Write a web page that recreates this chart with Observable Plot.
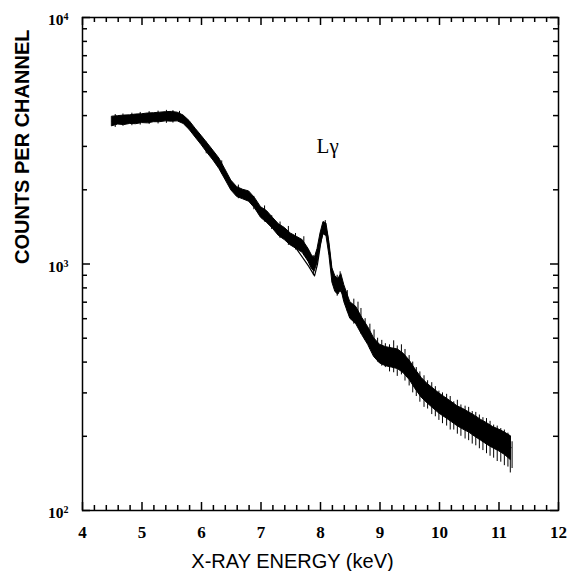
<!DOCTYPE html>
<html><head><meta charset="utf-8">
<script src="https://cdn.jsdelivr.net/npm/d3@7"></script>
<script src="https://cdn.jsdelivr.net/npm/@observablehq/plot@0.6"></script>
<style>body{margin:0;background:#fff}#chart svg{display:block}</style>
</head><body><div id="chart"></div>
<script>
// measured spectrum band (keV, counts lower / upper envelope)
const energy = [4.5,4.6,4.7,4.8,4.9,5.0,5.1,5.2,5.3,5.4,5.5,5.6,5.7,5.8,5.9,6.0,6.1,6.2,6.3,6.4,6.5,6.6,6.7,6.8,6.9,7.0,7.1,7.2,7.3,7.4,7.5,7.6,7.7,7.8,
  7.85,7.9,7.95,8.0,8.05,8.1,8.15,8.2,8.25,8.3,8.35,8.4,
  8.5,8.6,8.7,8.8,8.9,9.0,9.1,9.2,9.3,9.4,9.5,9.6,9.7,9.8,9.9,10.0,10.1,10.2,10.3,10.4,10.5,10.6,10.7,10.8,10.9,11.0,11.1,11.2];
const countsLo = [3620,3680,3660,3700,3690,3730,3720,3760,3760,3790,3780,3790,3700,3500,3260,3040,2820,2630,2430,2200,1990,1870,1830,1790,1680,1540,1470,1390,1300,1250,1190,1150,1110,1020,
  960,930,1010,1180,1320,1300,1080,840,770,750,790,700,
  600,570,515,470,420,395,385,380,375,360,338,310,287,272,259,247,238,229,220,213,207,199,192,185,179,174,168,160];
const countsHi = [3960,3980,4000,4010,4040,4050,4080,4090,4110,4130,4140,4110,4000,3800,3540,3310,3090,2880,2680,2420,2180,2050,2000,1970,1850,1700,1640,1540,1450,1400,1330,1290,1250,1150,
  1090,1050,1150,1330,1480,1460,1220,960,890,870,910,820,
  700,670,605,555,500,470,460,455,450,432,405,372,345,326,312,298,287,276,265,258,250,242,233,226,218,213,207,200];

// channel-noise spikes (keV, low, high)
const spikeEnergy = [4.55,4.68,4.83,4.97,5.12,5.27,5.41,5.52,5.63,6.08,
  6.34,6.62,6.88,7.06,7.18,7.32,7.46,7.58,7.72,7.88,
  8.08,8.28,8.33,8.45,8.56,8.63,8.68,8.75,8.83,8.9,
  8.96,9.03,9.09,9.16,9.23,9.29,9.36,9.42,9.49,9.55,
  9.61,9.67,9.74,9.8,9.87,9.93,9.99,10.05,10.12,10.18,
  10.24,10.3,10.36,10.43,10.49,10.55,10.61,10.67,10.73,10.79,
  10.85,10.91,10.97,11.03,11.09,11.15,11.19,11.22];
const spikeLo = [3580,3620,3640,3660,3680,3700,3720,3730,3760,2800,
  2320,1840,1660,1480,1380,1270,1190,1140,1080,900,
  1300,740,770,640,570,560,520,490,450,420,
  400,385,380,365,362,350,355,335,320,300,
  290,275,262,258,245,240,232,225,220,212,
  212,204,200,195,192,186,183,178,175,170,
  166,163,158,157,152,150,142,148];
const spikeHi = [4040,4060,4090,4120,4150,4170,4200,4190,4160,3120,
  2620,2090,1880,1720,1570,1480,1420,1330,1290,1080,
  1500,900,930,780,720,700,660,600,570,540,
  500,490,475,470,488,465,470,450,425,400,
  380,365,352,336,330,318,305,300,296,290,
  276,280,268,265,262,252,250,244,238,236,
  230,222,220,215,212,206,200,190];

// fitted curve
const fitEnergy = [4.5,5.0,5.5,5.6,5.7,5.8,5.9,6.0,6.2,6.4,6.5,6.6,6.7,6.8,6.9,7.0,7.2,7.4,7.6,7.8,7.9,7.95,8.0,8.05,8.08,8.12,8.2,8.3,8.4,8.5,8.6,8.7,8.8,8.9,9.0,9.2,9.4,9.6,9.8,10.0,10.2,10.4,10.6,10.8,11.0,11.2];
const fitCounts = [3800,3880,3960,3950,3850,3650,3400,3170,2740,2300,2100,1990,1960,1900,1760,1640,1470,1310,1150,980,895,1000,1200,1400,1430,1300,900,800,740,660,590,545,505,470,440,400,365,330,302,278,258,238,220,205,192,180];

// ticks and labels
const xMajor = [4,5,6,7,8,9,10,11,12];
const xMinor = [4.2,4.4,4.6,4.8,5.2,5.4,5.6,5.8,6.2,6.4,6.6,6.8,7.2,7.4,7.6,7.8,8.2,8.4,8.6,8.8,9.2,9.4,9.6,9.8,10.2,10.4,10.6,10.8,11.2,11.4,11.6,11.8];
const yMajor = [100,1000,10000];
const yExponent = ["2","3","4"];
const yMinor = [200,300,400,500,600,700,800,900,2000,3000,4000,5000,6000,7000,8000,9000];
const xTitle = "X-RAY ENERGY (keV)";
const yTitle = "COUNTS PER CHANNEL";
const annotationText = ["Lγ"];
const annotationEnergy = [8.12];
const annotationCounts = [3000];

const band = energy.map((e, i) => ({e, lo: countsLo[i], hi: countsHi[i]}));
const spikes = spikeEnergy.map((e, i) => ({e, lo: spikeLo[i], hi: spikeHi[i]}));
const fit = fitEnergy.map((e, i) => ({e, c: fitCounts[i]}));
const notes = annotationText.map((t, i) => ({t, e: annotationEnergy[i], c: annotationCounts[i]}));

const serif = "Liberation Serif";
const sans = "Liberation Sans";

const W = 569, H = 571, ML = 82, MR = 11, MT = 17, MB = 61;
const innerW = W - ML - MR, innerH = H - MT - MB;
const MAJ = 8, MIN = 5, TW = 1.5;

// inward tick helpers (short ticks along each frame side)
const ticksBottom = (v, len) => Plot.tickX(v, {x: d => d, insetTop: innerH - len, stroke: "black", strokeWidth: TW});
const ticksTop = (v, len) => Plot.tickX(v, {x: d => d, insetBottom: innerH - len, stroke: "black", strokeWidth: TW});
const ticksLeft = (v, len) => Plot.tickY(v, {y: d => d, insetRight: innerW - len, stroke: "black", strokeWidth: TW});
const ticksRight = (v, len) => Plot.tickY(v, {y: d => d, insetLeft: innerW - len, stroke: "black", strokeWidth: TW});

const plot = Plot.plot({
  width: W, height: H,
  marginLeft: ML, marginRight: MR, marginTop: MT, marginBottom: MB,
  style: {background: "white", color: "black", fontFamily: sans, overflow: "visible"},
  x: {domain: [4, 12], label: null, axis: null},
  y: {type: "log", domain: [100, 10000], label: null, axis: null},
  marks: [
    Plot.areaY(band, {x: "e", y1: "lo", y2: "hi", fill: "black", stroke: "black", strokeWidth: 1}),
    Plot.ruleX(spikes, {x: "e", y1: "lo", y2: "hi", stroke: "black", strokeWidth: 1}),
    Plot.line(fit, {x: "e", y: "c", stroke: "black", strokeWidth: 1.2}),
    Plot.frame({stroke: "black", strokeWidth: 1.5}),
    ticksBottom(xMajor, MAJ), ticksBottom(xMinor, MIN),
    ticksTop(xMajor, MAJ), ticksTop(xMinor, MIN),
    ticksLeft(yMajor, MAJ), ticksLeft(yMinor, MIN),
    ticksRight(yMajor, MAJ), ticksRight(yMinor, MIN),
    Plot.text(xMajor, {x: d => d, frameAnchor: "bottom", dy: 27, lineAnchor: "bottom", text: d => String(d),
      fontFamily: serif, fontWeight: "bold", fontSize: 17}),
    Plot.text(yMajor, {y: d => d, frameAnchor: "left", dx: -19, dy: 7.5, lineAnchor: "bottom", textAnchor: "end",
      text: () => "10", fontFamily: serif, fontWeight: "bold", fontSize: 15.5}),
    Plot.text(yMajor, {y: d => d, frameAnchor: "left", dx: -19, dy: 2.5, lineAnchor: "bottom", textAnchor: "start",
      text: (d, i) => yExponent[i], fontFamily: serif, fontWeight: "bold", fontSize: 10}),
    Plot.text([xTitle], {frameAnchor: "bottom", dx: -28, dy: 57, lineAnchor: "bottom", text: d => d,
      fontFamily: sans, fontSize: 20}),
    Plot.text([yTitle], {frameAnchor: "left", dx: -54, lineAnchor: "bottom", rotate: -90, text: d => d,
      fontFamily: sans, fontWeight: "bold", fontSize: 20}),
    Plot.text(notes, {x: "e", y: "c", text: "t", fontFamily: serif, fontSize: 21, lineAnchor: "middle"})
  ]
});
document.getElementById("chart").appendChild(plot);
</script>
</body></html>
